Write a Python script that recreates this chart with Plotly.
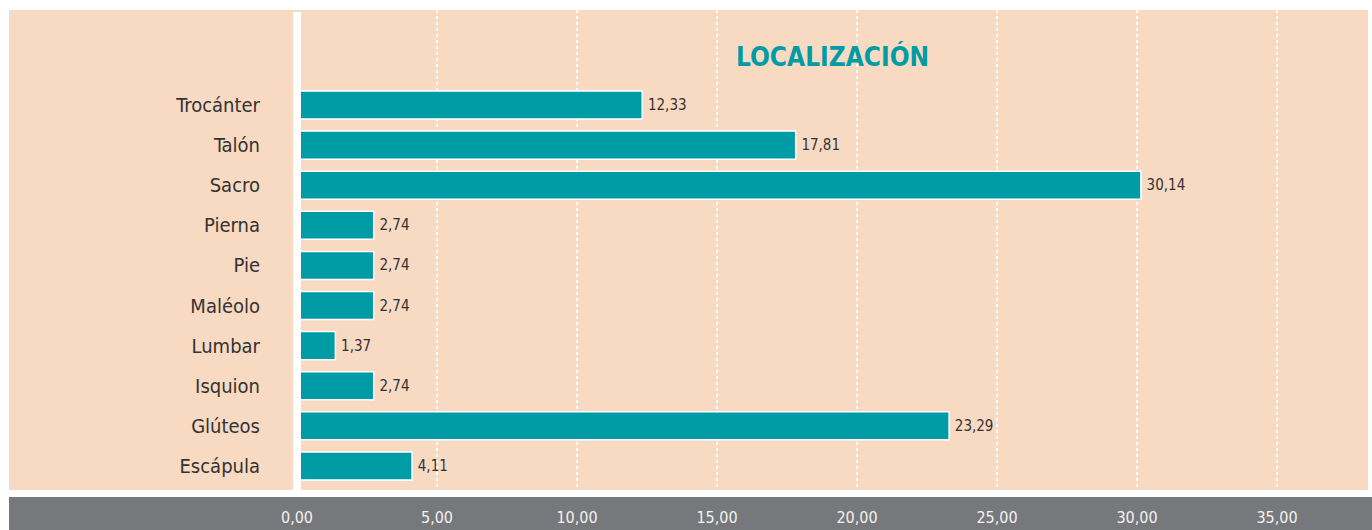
import plotly.graph_objects as go

# Data (bottom to top)
categories = ["Escápula", "Glúteos", "Isquion", "Lumbar", "Maléolo", "Pie", "Pierna", "Sacro", "Talón", "Trocánter"]
values = [4.11, 23.29, 2.74, 1.37, 2.74, 2.74, 2.74, 30.14, 17.81, 12.33]
tick_vals = [0, 5, 10, 15, 20, 25, 30, 35]
tick_text = ["0,00", "5,00", "10,00", "15,00", "20,00", "25,00", "30,00", "35,00"]
title_text = "LOCALIZACIÓN"

W, H = 1372, 530
ML, MR, MT, MB = 297, 4, 10, 40
PW = W - ML - MR
PH = H - MT - MB

def px_x(p):
    return (p - ML) / PW

def px_y(p):
    return 1 - (p - MT) / PH

TEAL = "#009ca6"
PEACH = "#f8d9c2"
GRAY = "#77787b"
FONT = "DejaVu Sans Condensed, Liberation Sans Narrow, sans-serif"

labels = ["\u2009" + f"{v:.2f}".replace(".", ",") for v in values]

fig = go.Figure(go.Bar(
    x=values, y=categories, orientation="h",
    marker=dict(color=TEAL, line=dict(color="white", width=1.5)),
    width=0.7,
    text=labels, textposition="outside", cliponaxis=False,
    textfont=dict(family=FONT, size=15, color="#333333"),
))

shapes = [
    # peach background
    dict(type="rect", xref="paper", yref="paper", x0=px_x(9), x1=px_x(1368), y0=0, y1=1,
         fillcolor=PEACH, line=dict(width=0), layer="below"),
    # gray band
    dict(type="rect", xref="paper", yref="paper", x0=px_x(9), x1=px_x(1372), y0=px_y(497), y1=px_y(530),
         fillcolor=GRAY, line=dict(width=0), layer="below"),
    # white vertical band at zero
    dict(type="rect", xref="paper", yref="paper", x0=px_x(293), x1=px_x(301), y0=0, y1=px_y(12),
         fillcolor="white", line=dict(width=0), layer="above"),
]

fig.update_layout(
    width=W, height=H,
    margin=dict(l=ML, r=MR, t=MT, b=MB, pad=0, autoexpand=False),
    paper_bgcolor="white", plot_bgcolor="rgba(0,0,0,0)",
    showlegend=False,
    shapes=shapes,
    bargap=0.3,
    annotations=[dict(text=title_text, x=0.5, y=px_y(56), xref="paper", yref="paper",
                      xanchor="center", yanchor="middle", showarrow=False,
                      font=dict(family=FONT, size=26, color=TEAL, weight="bold"))],
)

fig.update_xaxes(
    range=[0, (1368 - ML) / 28.0], tickvals=tick_vals, ticktext=tick_text,
    showgrid=True, gridcolor="white", griddash="dot", gridwidth=2,
    zeroline=False, showline=False, ticks="",
    tickfont=dict(family=FONT, size=16, color="#f2f2f2"),
    ticklabelstandoff=16, fixedrange=True, automargin=False,
)
fig.update_yaxes(
    categoryorder="array", categoryarray=categories,
    range=[-0.6, 11.37],
    showgrid=False, zeroline=False, showline=False, ticks="",
    tickfont=dict(family=FONT, size=20, color="#333333"),
    ticklabelstandoff=36, fixedrange=True, automargin=False,
)

fig.write_html("out.html", config={"displayModeBar": False},
               post_script="document.body.style.margin='0';document.body.style.padding='0';")
